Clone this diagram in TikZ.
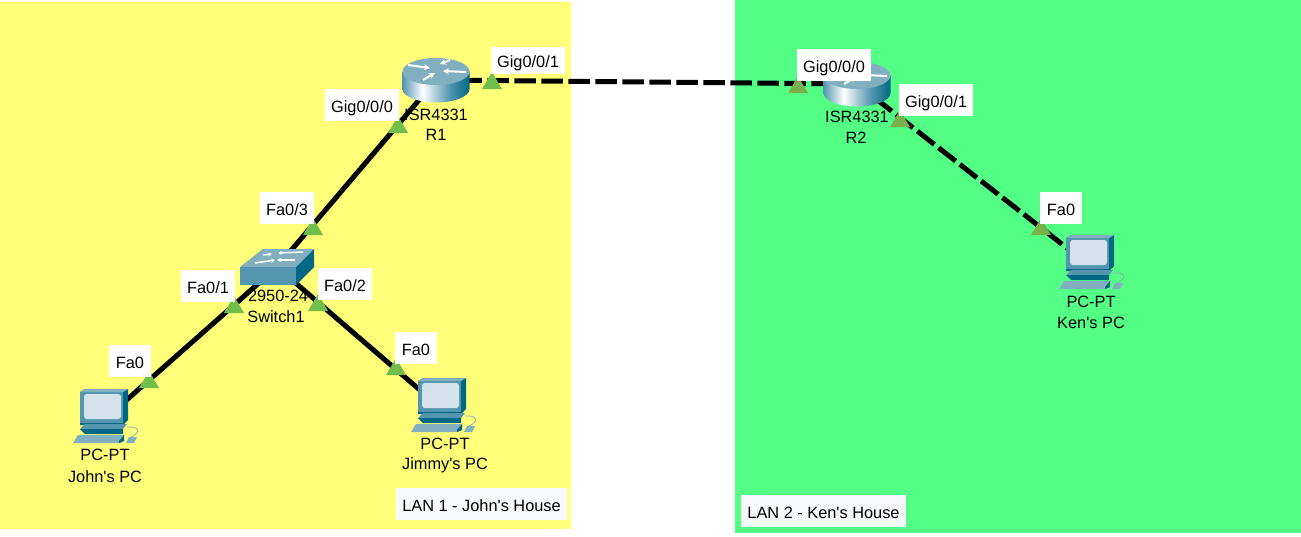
\documentclass[tikz,border=0pt]{standalone}
\usepackage{fontspec}
\setmainfont{Liberation Sans}
\usetikzlibrary{arrows.meta}

\definecolor{lan_yellow}{RGB}{255,255,122}
\definecolor{lan_green}{RGB}{84,255,134}
\definecolor{lan_tag}{RGB}{247,249,253}
\definecolor{port_on_yellow}{RGB}{114,190,74}
\definecolor{port_on_green}{RGB}{120,176,76}
\definecolor{icon_light}{RGB}{130,175,192}
\definecolor{icon_mid}{RGB}{84,150,175}
\definecolor{icon_dark}{RGB}{0,104,132}
\definecolor{screen_col}{RGB}{212,226,236}

\pgfdeclarehorizontalshading{router_side}{100bp}{
    color(0bp)=(icon_mid); color(25bp)=(icon_mid); color(40bp)=(white);
    color(60bp)=(icon_mid); color(75bp)=(icon_dark); color(100bp)=(icon_dark)}

\begin{document}
\begin{tikzpicture}[
    x=0.2mm, y=-0.2mm,
    % Link and label styles
    cable/.style={line width=1mm, color=black},
    cable_dash/.style={cable, dash pattern=on 4.3mm off 1.1mm},
    port_label/.style={rectangle, fill=white, font=\fontsize{9.3pt}{11pt}\selectfont, minimum height=6.4mm,
                       inner xsep=1.3mm, inner ysep=0pt, text height=3mm, text depth=0pt},
    device_text/.style={font=\fontsize{9.3pt}{11pt}\selectfont, inner sep=0pt},
    lan_label/.style={port_label, fill=lan_tag},
    % Icons
    router_icon/.pic={
        \shade[shading=router_side] (-33.5,-8.5) -- (-33.5,9) arc[start angle=180, end angle=0, x radius=33.5, y radius=13.5] -- (33.5,-8.5) -- cycle;
        \fill[icon_light] (0,-8.5) ellipse[x radius=33.5, y radius=13.5];
        \foreach \ax/\ay/\bx/\by in {-28/-15/-6/-12, 14/-20/4/-16, 30/-8/7/-9, -13/0/-1/-7}
            \draw[white, line width=0.4mm, -{Stealth[length=1.2mm,width=1.2mm]}] (\ax,\ay) -- (\bx,\by);
    },
    switch_icon/.pic={
        \fill[icon_light] (-37,0) -- (-14,-18) -- (37,-18) -- (19,0) -- cycle;
        \fill[icon_mid] (-37,0) rectangle (19,18);
        \fill[icon_dark] (19,0) -- (37,-18) -- (37,0) -- (19,18) -- cycle;
        \foreach \ax/\ay/\bx/\by in {-14/-12/-5/-13, 26/-15/1/-14, -22/-4/-2/-7, 18/-7/0/-7}
            \draw[white, line width=0.3mm, -{Stealth[length=0.8mm,width=0.8mm]}] (\ax,\ay) -- (\bx,\by);
    },
    pc_icon/.pic={
        \fill[icon_dark] (-19,-31) -- (24,-31) -- (24,0) -- (19,5) -- (-24,5) -- (-24,-28) -- cycle;
        \fill[icon_light] (-24,-28) -- (-19,-31) -- (24,-31) -- (19,-28) -- cycle;
        \fill[icon_mid] (-24,-28) rectangle (19,3);
        \fill[screen_col, rounded corners=1.5pt] (-20,-26) rectangle (17,-1);
        \fill[icon_dark] (-19,3) rectangle (19,6);
        \fill[icon_mid] (-24,9) -- (-19,4) -- (23,4) -- (19,9) -- cycle;
        \fill[icon_dark] (-24,9) -- (19,9) -- (19,14) -- (-19,14) -- cycle;
        \fill[icon_light] (-31,23) -- (-26,15) -- (20,15) -- (20,21) -- (15,23) -- cycle;
        \fill[icon_dark] (20,15) -- (20,21) -- (15,23) -- (15,21) -- cycle;
        \fill[icon_light] (22,23) -- (25,17) -- (33,17) -- (30,23) -- cycle;
        \draw[icon_light, line width=0.15mm] (27,17) .. controls (38,12) and (35,6) .. (23,7);
    },
    port_mark/.pic={
        \fill[pic actions] (-10,0) -- (0,-17) -- (10,0) -- cycle;
    }
]

\useasboundingbox (0,0) rectangle (1301,536);

% LAN areas
\fill[lan_yellow] (0,2) rectangle (571,529);
\fill[lan_green] (735,0) rectangle (1301,533);

% Devices
\coordinate (r1) at (436,80);
\coordinate (r2) at (857,84);
\coordinate (sw1) at (277,267);
\coordinate (pc_john) at (104,420);
\coordinate (pc_jimmy) at (442,409);
\coordinate (pc_ken) at (1090,266);

% Links
\draw[cable] (r1) -- (sw1);
\draw[cable] (sw1) -- (pc_john);
\draw[cable] (sw1) -- (pc_jimmy);
\draw[cable_dash, dash phase=0.54mm] (r1) -- (r2);
\draw[cable_dash, dash phase=0.88mm] (r2) -- (pc_ken);

% Icons
\pic at (r1) {router_icon};
\pic at (r2) {router_icon};
\pic at (sw1) {switch_icon};
\pic at (pc_john) {pc_icon};
\pic at (pc_jimmy) {pc_icon};
\pic at (pc_ken) {pc_icon};

% Device names
\node[device_text] (r1_model) at (436,115) {ISR4331};
\node[device_text] (r1_name) at (436,135) {R1};
\node[device_text] (r2_model) at (857,117) {ISR4331};
\node[device_text] (r2_name) at (856,138) {R2};
\node[device_text] (sw1_model) at (278,296) {2950-24};
\node[device_text] (sw1_name) at (276,317) {Switch1};
\node[device_text] (john_model) at (105,455) {PC-PT};
\node[device_text] (john_name) at (105,477) {John\textquotesingle s PC};
\node[device_text] (jimmy_model) at (445,444) {PC-PT};
\node[device_text] (jimmy_name) at (445,465) {Jimmy\textquotesingle s PC};
\node[device_text] (ken_model) at (1091,302) {PC-PT};
\node[device_text] (ken_name) at (1091,323) {Ken\textquotesingle s PC};

% Port marks
\foreach \px/\py in {492/89, 398/133, 313/235, 234/313, 318/311, 149/388, 396/375}
    \pic[fill=port_on_yellow] at (\px,\py) {port_mark};
\foreach \px/\py in {798/93, 900/127, 1041/235}
    \pic[fill=port_on_green] at (\px,\py) {port_mark};

% Port labels
\node[port_label, minimum height=5.4mm] (r1_gig1) at (528,60) {Gig0/0/1};
\node[port_label] (r1_gig0) at (362,105) {Gig0/0/0};
\node[port_label] (sw1_fa3) at (287,208) {Fa0/3};
\node[port_label] (sw1_fa1) at (208,286) {Fa0/1};
\node[port_label] (sw1_fa2) at (345,284) {Fa0/2};
\node[port_label] (john_fa0) at (130,361) {Fa0};
\node[port_label] (jimmy_fa0) at (416,348) {Fa0};
\node[port_label] (r2_gig0) at (834,65) {Gig0/0/0};
\node[port_label] (r2_gig1) at (936,100) {Gig0/0/1};
\node[port_label] (ken_fa0) at (1061,208) {Fa0};

% LAN names
\node[lan_label, minimum width=33.8mm] (lan1_name) at (481.5,503.5) {LAN 1 - John\textquotesingle s House};
\node[lan_label, minimum width=32.6mm] (lan2_name) at (823.5,510.5) {LAN 2 - Ken\textquotesingle s House};

\end{tikzpicture}
\end{document}
